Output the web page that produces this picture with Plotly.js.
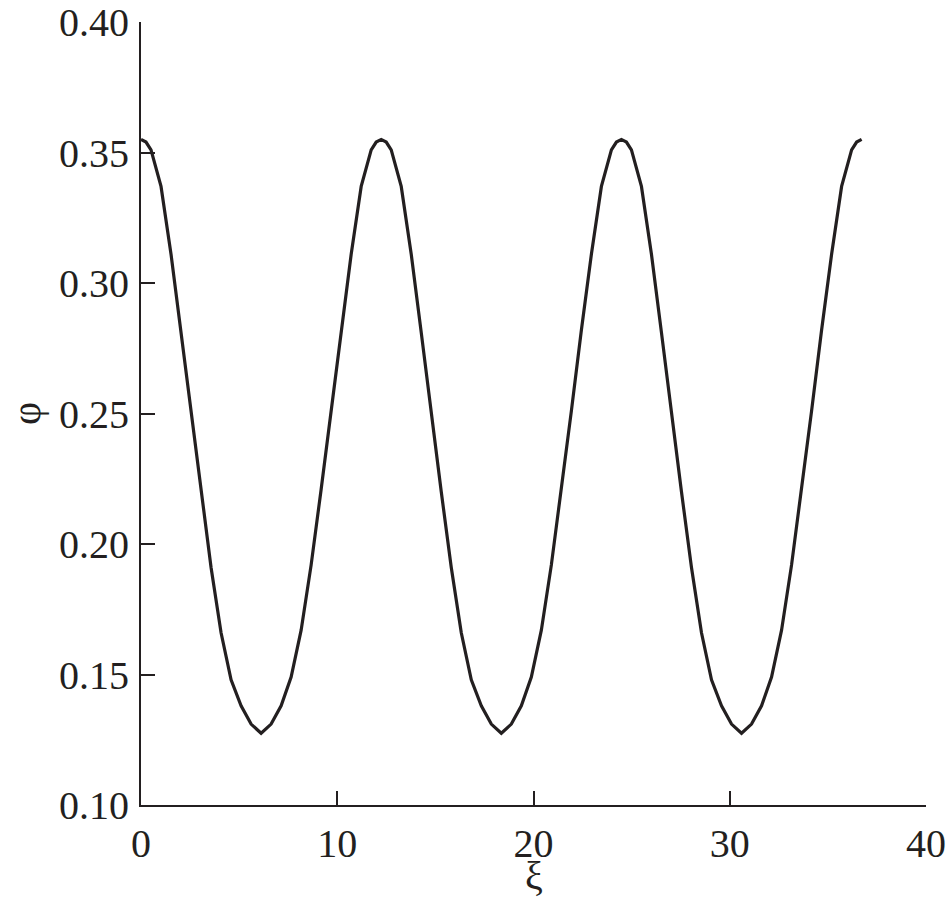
<!DOCTYPE html>
<html>
<head>
<meta charset="utf-8">
<script src="https://cdn.plot.ly/plotly-3.0.1.min.js"></script>
<style>html,body{margin:0;padding:0;background:#fff;}#chart{width:947px;height:898px;}</style>
</head>
<body>
<div id="chart"></div>
<script>
// ξ values
const xi = [
  0, 0.255, 0.51, 1.02, 1.53, 2.04, 2.55, 3.06, 3.57, 4.08, 4.59, 5.10, 5.61, 6.12, 6.63, 7.14, 7.65, 8.16, 8.67, 9.18, 9.69, 10.20, 10.71, 11.22, 11.73, 11.985, 12.24,
  12.495, 12.75, 13.26, 13.77, 14.28, 14.79, 15.30, 15.81, 16.32, 16.83, 17.34, 17.85, 18.36, 18.87, 19.38, 19.89, 20.40, 20.91, 21.42, 21.93, 22.44, 22.95, 23.46, 23.97, 24.225, 24.48,
  24.735, 24.99, 25.50, 26.01, 26.52, 27.03, 27.54, 28.05, 28.56, 29.07, 29.58, 30.09, 30.60, 31.11, 31.62, 32.13, 32.64, 33.15, 33.66, 34.17, 34.68, 35.19, 35.70, 36.21, 36.465, 36.72
];
// φ values
const phi = [
  0.355, 0.354, 0.351, 0.337, 0.311, 0.281, 0.250, 0.220, 0.191, 0.166, 0.148, 0.138, 0.131, 0.1275, 0.131, 0.138, 0.149, 0.167, 0.192, 0.221, 0.251, 0.282, 0.311, 0.337, 0.351, 0.354, 0.355,
  0.354, 0.351, 0.337, 0.311, 0.281, 0.250, 0.220, 0.191, 0.166, 0.148, 0.138, 0.131, 0.1275, 0.131, 0.138, 0.149, 0.167, 0.192, 0.221, 0.251, 0.282, 0.311, 0.337, 0.351, 0.354, 0.355,
  0.354, 0.351, 0.337, 0.311, 0.281, 0.250, 0.220, 0.191, 0.166, 0.148, 0.138, 0.131, 0.1275, 0.131, 0.138, 0.149, 0.167, 0.192, 0.221, 0.251, 0.282, 0.311, 0.337, 0.351, 0.354, 0.355
];
const xTicks = [0, 10, 20, 30, 40];
const xTickText = ['0', '10', '20', '30', '40'];
const yTicks = [0.10, 0.15, 0.20, 0.25, 0.30, 0.35, 0.40];
const yTickText = ['0.10', '0.15', '0.20', '0.25', '0.30', '0.35', '0.40'];
const xTitle = 'ξ';
const yTitle = 'φ';

const ink = '#231f20';
const font = {family: 'Liberation Serif, Times New Roman, serif', size: 40, color: ink};

const trace = {
  x: xi, y: phi, type: 'scatter', mode: 'lines',
  line: {color: ink, width: 3.2}, hoverinfo: 'skip'
};

const layout = {
  width: 947, height: 898,
  margin: {l: 141, r: 21, t: 22, b: 93},
  paper_bgcolor: '#fff', plot_bgcolor: '#fff',
  font: font,
  showlegend: false,
  xaxis: {
    range: [0, 40], tickmode: 'array', tickvals: xTicks, ticktext: xTickText,
    ticks: 'inside', ticklen: 14, tickwidth: 2, tickcolor: ink,
    showline: true, linecolor: ink, linewidth: 2, mirror: false,
    showgrid: false, zeroline: false,
    tickfont: font, ticklabelstandoff: 2
  },
  yaxis: {
    range: [0.10, 0.40], tickmode: 'array', tickvals: yTicks, ticktext: yTickText,
    ticks: 'inside', ticklen: 14, tickwidth: 2, tickcolor: ink,
    showline: true, linecolor: ink, linewidth: 2, mirror: false,
    showgrid: false, zeroline: false,
    tickfont: font, ticklabelstandoff: 2,
    title: {text: yTitle, font: font, standoff: 6}
  },
  annotations: [{
    text: xTitle, xref: 'paper', yref: 'paper', x: 0.5, y: -0.059,
    xanchor: 'center', yanchor: 'top', showarrow: false, font: font
  }]
};

Plotly.newPlot('chart', [trace], layout, {displayModeBar: false, staticPlot: true});
</script>
</body>
</html>
